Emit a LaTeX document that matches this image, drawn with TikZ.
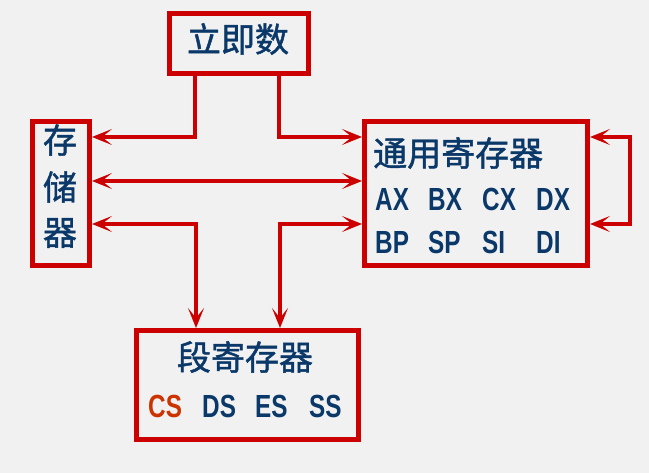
\documentclass[tikz,border=0pt]{standalone}
\usepackage{fontspec}
\usetikzlibrary{arrows.meta}
\newfontfamily\cjk[FakeBold=1.3]{Noto Sans CJK SC}
\newfontfamily\narrowlat[FakeStretch=0.76]{Liberation Sans}
\definecolor{boxred}{HTML}{CC0000}
\definecolor{navy}{HTML}{0A3869}
\definecolor{csred}{HTML}{CC3300}
\definecolor{bggray}{HTML}{F1F1F1}
\tikzset{
  box/.style={draw=boxred, line width=5pt, rectangle, inner sep=0pt},
  cjktext/.style={text=navy, font=\cjk\fontsize{34}{36}\selectfont, inner sep=0pt},
  regtext/.style={text=navy, font=\narrowlat\bfseries\fontsize{32}{34}\selectfont, inner sep=0pt},
  conn/.style={draw=boxred, line width=4.5pt, line join=miter},
  arr/.tip={Stealth[length=20pt,width=16pt,inset=10pt]},
  tip/.style={-arr},
  tips/.style={arr-arr},
  rtip/.style={arr-},
}
\begin{document}
\begin{tikzpicture}[x=1pt,y=-1pt]
\fill[bggray] (0,0) rectangle (649,473);
\useasboundingbox (0,0) rectangle (649,473);
% boxes
\node[box, minimum width=139pt, minimum height=60pt] (imm) at (239,43.5) {};
\node[box, minimum width=57pt, minimum height=144pt] (mem) at (61,193.5) {};
\node[box, minimum width=223pt, minimum height=144pt] (gen) at (476,193.5) {};
\node[box, minimum width=222pt, minimum height=109pt] (seg) at (247.5,385) {};
% texts
\node[cjktext] (immt) at (238,39) {立即数};
\node[cjktext] (m1) at (60,140) {存};
\node[cjktext] (m2) at (60,187) {储};
\node[cjktext] (m3) at (60,233) {器};
\node[cjktext, anchor=west] (gent) at (373,153) {通用寄存器};
\node[regtext, anchor=west] (ax) at (375,199) {AX};
\node[regtext, anchor=west] (bx) at (428,199) {BX};
\node[regtext, anchor=west] (cx) at (482,199) {CX};
\node[regtext, anchor=west] (dx) at (536,199) {DX};
\node[regtext, anchor=west] (bp) at (375,242) {BP};
\node[regtext, anchor=west] (sp) at (428,242) {SP};
\node[regtext, anchor=west] (si) at (482,242) {SI};
\node[regtext, anchor=west] (di) at (536,242) {DI};
\node[cjktext] (segt) at (245,357) {段寄存器};
\node[regtext, anchor=west, text=csred] (cs) at (148,406) {CS};
\node[regtext, anchor=west] (ds) at (202,406) {DS};
\node[regtext, anchor=west] (es) at (255,406) {ES};
\node[regtext, anchor=west] (ss) at (309,406) {SS};
% junction coordinates
\coordinate (ul) at (195,137);
\coordinate (ur) at (279,137);
\coordinate (mid) at (200,181);
\coordinate (ll) at (196,224);
\coordinate (lr) at (280,224);
\coordinate (loopt) at (630,137);
\coordinate (loopb) at (630,224);
% connectors
\draw[conn, rtip] (mem.east |- ul) -- (ul) -- (ul |- imm.south);
\draw[conn, tip] (ur |- imm.south) -- (ur) -- (gen.west |- ur);
\draw[conn, tips] (mem.east |- mid) -- (gen.west |- mid);
\draw[conn, tips] (mem.east |- ll) -- (ll) -- (ll |- seg.north);
\draw[conn, tips] (gen.west |- lr) -- (lr) -- (lr |- seg.north);
\draw[conn, tips] (gen.east |- loopt) -- (loopt) -- (loopb) -- (gen.east |- loopb);
\end{tikzpicture}
\end{document}
